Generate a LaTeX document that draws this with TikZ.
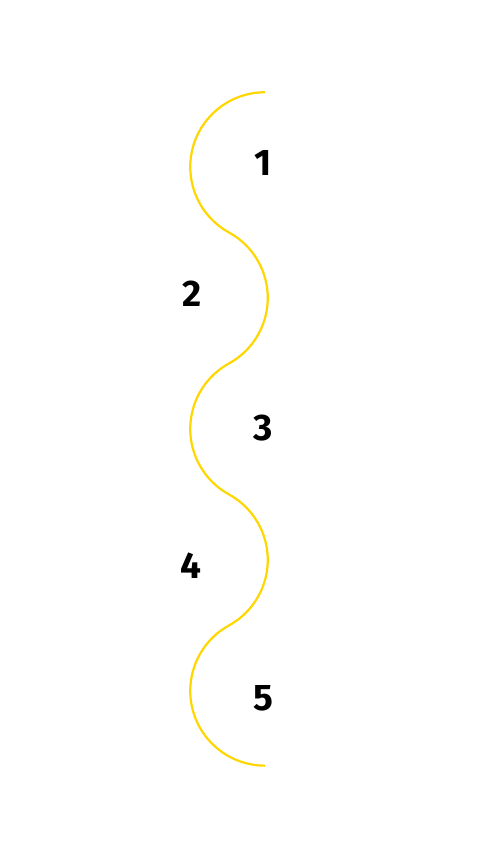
\documentclass[tikz,border=0pt]{standalone}
\usepackage{fontspec}
\setmainfont{Fira Sans}
\begin{document}
\begin{tikzpicture}[x=1pt,y=1pt,
  wave/.style={draw={rgb,255:red,255;green,215;blue,0},line width=2.2pt},
  num/.style={font=\fontsize{37}{40}\selectfont\bfseries,text=black,inner sep=0pt}]
\useasboundingbox[fill=white] (0,0) rectangle (480,856);
\def\r{74.74}
\draw[wave] (265,763.74) arc[start angle=90,end angle=241.2,radius=\r]
  arc[start angle=61.2,end angle=-61.2,radius=\r]
  arc[start angle=118.8,end angle=241.2,radius=\r]
  arc[start angle=61.2,end angle=-61.2,radius=\r]
  arc[start angle=118.8,end angle=270,radius=\r];
\node[num] (n1) at (263,693) {1};
\node[num] (n2) at (192,562) {2};
\node[num] (n3) at (263,428) {3};
\node[num] (n4) at (191,290) {4};
\node[num] (n5) at (263,158) {5};
\end{tikzpicture}
\end{document}
